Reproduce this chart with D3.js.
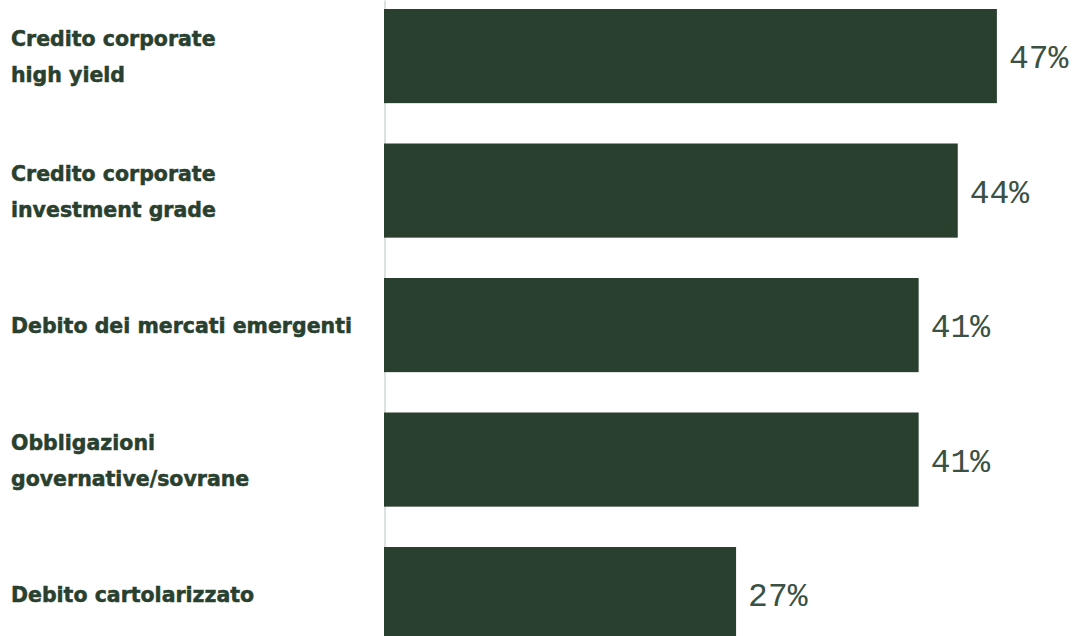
<!DOCTYPE html>
<html>
<head>
<meta charset="utf-8">
<script src="https://cdn.jsdelivr.net/npm/d3@7"></script>
<style>
  body { margin: 0; background: #fff; }
</style>
</head>
<body>
<div id="chart"></div>
<script>
const categories = ["Credito corporate high yield", "Credito corporate investment grade", "Debito dei mercati emergenti", "Obbligazioni governative/sovrane", "Debito cartolarizzato"];
const labelLines = [["Credito corporate", "high yield"], ["Credito corporate", "investment grade"], ["Debito dei mercati emergenti"], ["Obbligazioni", "governative/sovrane"], ["Debito cartolarizzato"]];
const values = [47, 44, 41, 41, 27];

const width = 1088, height = 636;
const marginLeft = 384, marginTop = 9;
const green = "#29402f";

const svg = d3.select("#chart").append("svg")
  .attr("width", width)
  .attr("height", height);

const x = d3.scaleLinear().domain([0, 50]).range([marginLeft, marginLeft + 652]);
const y = d3.scaleBand()
  .domain(categories)
  .range([marginTop, marginTop + 134.5 * 4.7])
  .paddingInner(0.3)
  .paddingOuter(0);

// thin axis line
svg.append("g")
  .attr("transform", `translate(${marginLeft + 0.5},0)`)
  .call(d3.axisLeft(d3.scaleLinear().range([0, height])).tickValues([]).tickSizeOuter(0))
  .select(".domain")
  .attr("stroke", "#b9c4bc");

const data = categories.map((c, i) => ({ cat: c, value: values[i], lines: labelLines[i] }));

svg.selectAll("rect.bar")
  .data(data)
  .enter().append("rect")
  .attr("class", "bar")
  .attr("x", x(0))
  .attr("y", d => y(d.cat))
  .attr("width", d => x(d.value) - x(0))
  .attr("height", y.bandwidth())
  .attr("fill", green);

// value labels
svg.selectAll("text.val")
  .data(data)
  .enter().append("text")
  .attr("class", "val")
  .attr("x", d => x(d.value) + 12)
  .attr("y", d => y(d.cat) + y.bandwidth() / 2 + 12)
  .attr("font-family", "'Liberation Mono', monospace")
  .attr("font-size", 33)
  .attr("fill", "#3a5143")
  .text(d => d.value + "%");

// category labels
const lineH = 36;
const lab = svg.selectAll("text.cat")
  .data(data)
  .enter().append("text")
  .attr("class", "cat")
  .attr("font-family", "'DejaVu Sans', sans-serif")
  .attr("font-weight", "bold")
  .attr("font-size", 20.5)
  .attr("fill", green)
  .attr("stroke", green)
  .attr("stroke-width", 0.5)
  .attr("x", 11)
  .attr("y", d => y(d.cat) + y.bandwidth() / 2 + 8 - (d.lines.length - 1) * lineH / 2);

lab.selectAll("tspan")
  .data(d => d.lines)
  .enter().append("tspan")
  .attr("x", 11)
  .attr("dy", (d, i) => i === 0 ? 0 : lineH)
  .text(d => d);
</script>
</body>
</html>
